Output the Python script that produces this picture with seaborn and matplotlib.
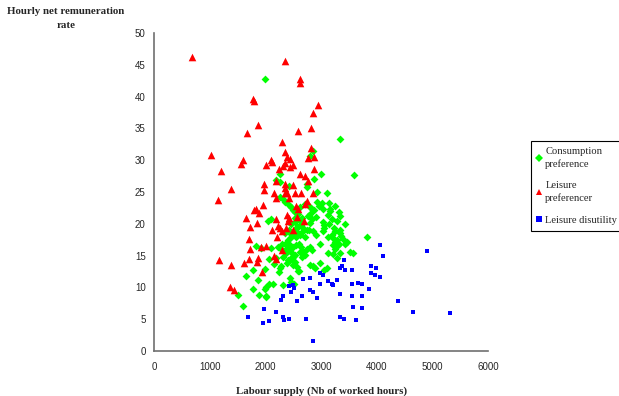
import matplotlib
matplotlib.use("Agg")
import matplotlib.pyplot as plt
import seaborn as sns
import pandas as pd
from matplotlib.lines import Line2D

# ---- data (hours, rate) ----
cons_x = [2000, 3350, 2860, 2800, 3600, 3000, 2875, 2260, 2190, 2260, 2750, 2750, 2425, 2930, 3110,
          2270, 2310, 2350, 2420, 2470, 2490, 2540, 2620, 2720, 2790, 2830, 2880, 2930, 2970, 3010,
          3030, 3150, 3170, 3160, 2860, 2810, 2910, 2830, 2580, 2530, 2620, 3350, 3040, 3050, 3060,
          3040, 3430, 3350, 3340, 3360, 2790, 2860, 2910, 2680, 2620, 2710, 2500, 2470, 2550, 2590,
          2350, 2410, 2390, 3120, 3190, 3220, 3250, 3280, 3330, 3430, 2990, 3820, 3220, 3310, 3250,
          2800, 2830, 2740, 2680, 2710, 2500, 2470, 2530, 2490, 2440, 3120, 3220, 3340, 3520, 3570,
          3290, 2990, 2800, 2860, 2890, 2590, 3100, 3060, 2380, 2320, 2410, 2470, 2530, 2490, 2560,
          2070, 2200, 2290, 2260, 1990, 1780, 1650, 2600, 1870, 2440, 2470, 2510, 2070, 2140, 2010,
          1990, 2310, 1770, 1500, 1890, 2010, 2020, 1600, 1840, 1930, 2110, 2230, 2300, 2050, 2100,
          2360, 2420, 2460, 2510, 2560, 2600, 2640, 2700, 2750, 2800, 2470, 2540, 2660, 2760,
          2280, 2330, 2420, 2440, 2550, 2600, 2640, 2620, 2660, 2390, 2150, 2240,
          3260, 3330, 3290, 3200, 3130, 3230, 3150, 3260, 3470, 3400]
cons_y = [42.7, 33.4, 31.5, 30.7, 27.7, 27.9, 27.0, 27.8, 26.9, 26.6, 26.3, 25.8, 26.0, 25.0, 24.8,
          24.2, 23.9, 23.4, 22.9, 22.6, 22.1, 21.8, 22.6, 23.1, 22.8, 22.3, 22.1, 23.4, 22.8, 23.2,
          22.4, 23.2, 22.4, 22.0, 22.2, 21.5, 21.1, 20.8, 21.6, 20.9, 20.6, 21.3, 20.3, 19.8, 19.3,
          18.8, 19.9, 19.1, 18.6, 18.1, 19.1, 18.9, 18.3, 18.8, 18.2, 18.0, 18.2, 17.9, 18.0, 18.5,
          16.9, 17.4, 16.1, 17.9, 18.2, 17.7, 17.2, 17.4, 16.9, 16.8, 16.8, 18.0, 16.6, 16.6, 16.1,
          16.4, 15.9, 16.1, 15.6, 15.1, 16.4, 15.6, 15.1, 14.8, 14.3, 15.4, 15.2, 15.4, 15.6, 15.4,
          14.7, 13.8, 13.5, 13.3, 13.0, 12.6, 13.0, 12.7, 15.4, 14.8, 14.3, 14.7, 14.0, 13.5, 13.2,
          14.5, 14.7, 13.3, 13.0, 12.9, 12.7, 11.8, 12.6, 11.2, 11.5, 10.9, 10.6, 10.5, 10.5, 10.0,
          9.7, 10.3, 9.7, 8.8, 8.8, 8.7, 8.5, 7.0, 16.5, 16.2, 16.2, 16.4, 16.9, 20.5, 20.7,
          18.6, 19.0, 18.4, 18.8, 19.5, 19.6, 19.8, 19.2, 19.0, 20.1, 20.0, 20.3, 20.9, 21.3,
          16.0, 15.7, 15.9, 16.7, 16.7, 16.9, 16.3, 15.5, 14.8, 13.8, 13.7, 12.4,
          22.8, 21.9, 20.4, 20.8, 21.4, 19.4, 19.9, 18.9, 17.2, 17.6]

leis_x = [690, 2350, 2620, 2630, 1770, 1800, 2940, 2860, 1870, 1665, 2820, 2590, 2300, 1030, 1590,
          1570, 1200, 2100, 2115, 2020, 2350, 2390, 2440, 2355, 2310, 2250, 2490, 2445, 2820, 2770,
          2880, 2880, 2630, 2710, 2760, 2200, 2350, 2490, 1970, 1390, 1145, 1975, 2155, 2200, 2350,
          2350, 2395, 2430, 2530, 2640, 2740, 2720, 2860, 2550, 2590, 1965, 1830, 1800, 1880, 1650,
          1845, 1720, 2200, 2395, 2430, 2400, 2570, 2700, 2125, 2230, 2270, 2305, 2365, 2500, 2210,
          1710, 1725, 1915, 2015, 2300, 2155, 2200, 1175, 1875, 1845, 1710, 1375, 1615, 1940, 1365,
          1440]
leis_y = [46.3, 45.6, 42.8, 42.2, 39.6, 39.3, 38.7, 37.5, 35.6, 34.3, 35.1, 34.6, 32.9, 30.8, 30.0,
          29.4, 28.3, 30.1, 29.7, 29.3, 31.3, 30.5, 30.2, 29.6, 29.1, 28.6, 29.2, 28.9, 31.9, 30.4,
          30.5, 28.6, 27.8, 27.5, 26.8, 26.7, 26.3, 26.1, 26.2, 25.5, 23.7, 25.3, 24.9, 24.0, 25.6,
          24.9, 24.9, 24.0, 24.8, 24.8, 23.6, 23.1, 24.9, 22.8, 22.4, 23.0, 22.4, 22.1, 21.7, 20.9,
          20.1, 19.5, 20.7, 21.4, 20.9, 20.5, 21.0, 20.5, 19.1, 19.7, 19.3, 18.9, 19.3, 19.0, 17.9,
          17.6, 16.1, 16.4, 16.5, 15.9, 14.9, 14.4, 14.3, 14.6, 14.0, 14.5, 13.5, 13.9, 12.4, 10.0,
          9.6]

dis_x = [4060, 4120, 4910, 3410, 3370, 3340, 3430, 3550, 3900, 3980, 3890, 3970, 4060, 2980, 3030,
         2670, 2800, 3130, 3190, 3220, 3280, 2980, 3560, 3670, 3740, 3860, 2800, 2860, 2920, 2650,
         3350, 3550, 3730, 2430, 2500, 2510, 2470, 2320, 2280, 2560, 1980, 2190, 1690, 1950, 2070,
         2320, 2340, 2430, 2730, 3340, 3410, 3620, 3580, 3740, 4390, 4660, 5320, 2860]
dis_y = [16.6, 15.0, 15.7, 14.3, 13.3, 13.0, 12.8, 12.8, 13.4, 13.0, 12.2, 11.9, 11.7, 12.3, 11.9,
         11.3, 11.5, 11.0, 10.5, 10.3, 11.1, 10.6, 10.5, 10.7, 10.5, 9.7, 9.6, 9.3, 8.4, 8.7,
         8.9, 8.6, 8.7, 10.2, 10.4, 9.9, 9.3, 8.6, 8.0, 7.8, 6.6, 6.1, 5.4, 4.4, 4.7,
         5.4, 4.9, 5.0, 5.0, 5.3, 5.1, 4.9, 6.9, 6.7, 7.9, 6.1, 6.0, 1.6]

series_names = ["Consumption\npreference", "Leisure\npreferencer", "Leisure disutility"]
x_ticks = [0, 1000, 2000, 3000, 4000, 5000, 6000]
y_ticks = [0, 5, 10, 15, 20, 25, 30, 35, 40, 45, 50]

df = pd.concat([
    pd.DataFrame({"x": cons_x, "y": cons_y, "g": series_names[0]}),
    pd.DataFrame({"x": leis_x, "y": leis_y, "g": series_names[1]}),
    pd.DataFrame({"x": dis_x, "y": dis_y, "g": series_names[2]}),
], ignore_index=True)

sns.set_style("white")
plt.rcParams["font.family"] = ["Liberation Sans", "DejaVu Sans"]

colors = {series_names[0]: "#00FF00", series_names[1]: "#FF0000", series_names[2]: "#0000FF"}
markers = {series_names[0]: "D", series_names[1]: "^", series_names[2]: "s"}
sizes = {series_names[0]: 16, series_names[1]: 30, series_names[2]: 11}

fig = plt.figure(figsize=(6.19, 3.96), dpi=100)
ax = fig.add_axes([154/619, 1-351/396, (488-154)/619, (351-33)/396])

for name in series_names:
    sub = df[df["g"] == name]
    sns.scatterplot(data=sub, x="x", y="y", ax=ax, color=colors[name], marker=markers[name],
                    s=sizes[name], linewidth=0, legend=False)

ax.set_xlim(0, 6000)
ax.set_ylim(0, 50)
ax.set_xticks(x_ticks)
ax.set_yticks(y_ticks)
ax.set_xticklabels([str(t) for t in x_ticks], fontsize=7)
ax.set_yticklabels([str(t) for t in y_ticks], fontsize=7)
ax.set_xlabel("")
ax.set_ylabel("")
for side in ["top", "right"]:
    ax.spines[side].set_visible(False)
for side in ["left", "bottom"]:
    ax.spines[side].set_color("#707070")
    ax.spines[side].set_linewidth(1.2)
ax.tick_params(axis="both", direction="out", length=3, width=0.8, color="#404040", pad=3)
ax.tick_params(axis="x", pad=5)

serif = ["Liberation Serif", "DejaVu Serif"]
fig.text(66/619, 1-7/396, "Hourly net remuneration\nrate", ha="center", va="top",
         family=serif, fontweight="bold", fontsize=7.8, linespacing=1.75)
fig.text(322/619, 1-391/396, "Labour supply (Nb of worked hours)", ha="center", va="center",
         family=serif, fontweight="bold", fontsize=7.8)

handles = [Line2D([], [], linestyle="none", marker=markers[n], color=colors[n],
                  markersize=4 if n != series_names[1] else 5, markeredgewidth=0) for n in series_names]
leg = fig.legend(handles, series_names, loc="upper left", bbox_to_anchor=(531/619, 1-141/396),
                 frameon=True, fancybox=False, edgecolor="#000000", framealpha=1,
                 prop={"family": serif, "size": 7.6}, handlelength=0.5, handletextpad=0.3,
                 borderpad=0.55, labelspacing=1.15, borderaxespad=0)
for t in leg.get_texts():
    t.set_linespacing(1.45)
leg.get_frame().set_linewidth(0.8)

fig.savefig("out.png", dpi=100)
